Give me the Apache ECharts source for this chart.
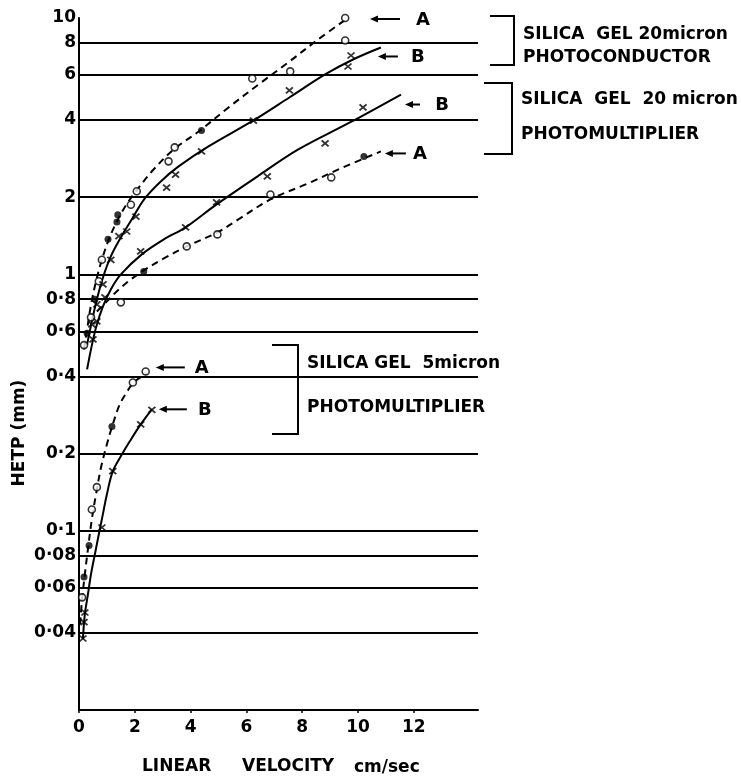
<!DOCTYPE html>
<html><head><meta charset="utf-8">
<script src="https://cdn.jsdelivr.net/npm/echarts@6/dist/echarts.min.js"></script>
<style>html,body{margin:0;padding:0;background:#fff}#c{width:741px;height:780px}</style>
</head><body><div id="c"></div>
<script>
// ---------- tick values / labels ----------
const yTicks = [0.04, 0.06, 0.08, 0.1, 0.2, 0.4, 0.6, 0.8, 1, 2, 4, 6, 8, 10];
const yTickLabels = ['0·04', '0·06', '0·08', '0·1', '0·2', '0·4', '0·6', '0·8', '1', '2', '4', '6', '8', '10'];
const gridLineValues = [0.04, 0.06, 0.08, 0.1, 0.2, 0.4, 0.6, 0.8, 1, 2, 4, 6, 8];
const xTicks = [0, 2, 4, 6, 8, 10, 12];

// ---------- Silica gel 20 micron, photoconductor ----------
const pcA_curve = [[0.18,0.51],[0.29,0.61],[0.43,0.76],[0.61,0.94],[0.82,1.14],[1.07,1.37],[1.36,1.61],[1.71,1.88],[2.14,2.18],[2.68,2.57],[3.39,3.07],[4.29,3.61],[5.36,4.48],[6.43,5.5],[7.5,6.71],[8.57,8.25],[9.64,10.0]];
const pcA_open = [[9.54,10.0],[9.54,8.17],[7.57,6.19],[6.21,5.81],[3.43,3.13],[3.21,2.76],[2.07,2.11],[1.86,1.87],[0.82,1.14],[0.71,0.94],[0.43,0.68],[0.18,0.53]];
const pcA_filled = [[4.39,3.64],[1.39,1.71],[1.36,1.6],[1.04,1.37],[0.57,0.8],[0.29,0.59]];
const pcB_curve = [[0.29,0.533],[0.46,0.656],[0.64,0.799],[0.86,0.973],[1.14,1.175],[1.5,1.394],[1.89,1.638],[2.36,1.978],[2.93,2.305],[3.57,2.637],[4.64,3.155],[6.25,3.984],[7.54,4.898],[8.82,6.022],[9.82,6.89],[10.82,7.674]];
const pcB_x = [[9.75,7.14],[9.64,6.47],[7.54,5.22],[6.25,3.98],[4.39,3.02],[3.46,2.45],[3.14,2.18],[2.04,1.68],[1.71,1.47],[1.43,1.41],[1.14,1.14],[0.86,0.914],[0.64,0.764],[0.46,0.638]];

// ---------- Silica gel 20 micron, photomultiplier ----------
const pmB_curve = [[0.29,0.426],[0.43,0.51],[0.61,0.621],[0.86,0.75],[1.14,0.874],[1.5,1.0],[2.25,1.197],[3.04,1.369],[3.82,1.525],[4.93,1.875],[6.5,2.454],[7.86,3.072],[9.71,3.913],[11.54,5.03]];
const pmB_x = [[2.21,1.229],[3.82,1.525],[4.93,1.909],[6.75,2.411],[8.82,3.241],[10.18,4.478],[0.93,0.813],[0.64,0.656],[0.5,0.558]];
const pmA_curve = [[0.64,0.717],[1.0,0.785],[1.43,0.874],[1.86,0.956],[2.32,1.036],[3.04,1.154],[3.86,1.286],[4.96,1.458],[5.71,1.638],[6.86,1.961],[8.21,2.264],[9.46,2.614],[10.82,3.017]];
const pmA_open = [[3.86,1.286],[4.96,1.432],[1.5,0.778],[6.86,2.05],[9.04,2.389]];
const pmA_filled = [[2.32,1.027],[10.21,2.884]];

// ---------- Silica gel 5 micron, photomultiplier ----------
const s5A_curve = [[0.04,0.0432],[0.11,0.0541],[0.21,0.0677],[0.32,0.0847],[0.46,0.1109],[0.61,0.1388],[0.79,0.1769],[1.0,0.2174],[1.21,0.26],[1.46,0.311],[1.71,0.3467],[1.96,0.379],[2.43,0.411]];
const s5A_open = [[2.39,0.418],[1.93,0.379],[0.64,0.148],[0.46,0.121],[0.11,0.055]];
const s5A_filled = [[1.18,0.255],[0.36,0.0876],[0.18,0.066]];
const s5B_curve = [[0.14,0.0378],[0.21,0.0473],[0.32,0.0565],[0.43,0.0677],[0.57,0.081],[0.71,0.0969],[0.82,0.1109],[1.0,0.1388],[1.21,0.1706],[1.54,0.1987],[1.82,0.2233],[2.21,0.26],[2.61,0.2977]];
const s5B_x = [[2.61,0.296],[2.21,0.26],[1.21,0.171],[0.82,0.103],[0.21,0.048],[0.14,0.038],[0.18,0.044]];

// ---------- curve end labels ----------
const curveLabels = ['A', 'B', 'B', 'A', 'A', 'B'];

const FONT = 'DejaVu Sans';
const chart = echarts.init(document.getElementById('c'));

const X_PATH = 'path://M0,0L10,10M10,0L0,10';
function lineSeries(data, dashed, extra) {
  return Object.assign({
    type: 'line', data: data, smooth: 0.35, showSymbol: false, symbol: 'none', silent: true,
    lineStyle: { color: '#000', width: 2, type: dashed ? [7, 5] : 'solid' }, z: 3
  }, extra || {});
}
function markers(data, kind) {
  const s = { type: 'scatter', data: data, silent: true, z: 5 };
  if (kind === 'open') { s.symbol = 'circle'; s.symbolSize = 7; s.itemStyle = { color: '#fff', borderColor: '#000', borderWidth: 1.6 }; }
  else if (kind === 'filled') { s.symbol = 'circle'; s.symbolSize = 7; s.itemStyle = { color: '#000' }; }
  else { s.symbol = X_PATH; s.symbolSize = [7, 6]; s.itemStyle = { color: 'none', borderColor: '#000', borderWidth: 1.8 }; }
  return s;
}

const option = {
  backgroundColor: '#fff',
  animation: false,
  grid: { left: 79, top: 18, width: 399, height: 692, containLabel: false },
  xAxis: {
    type: 'value', min: 0, max: 14.3, interval: 2,
    axisLine: { show: true, lineStyle: { color: '#000', width: 2 } },
    axisTick: { show: true, customValues: xTicks, length: 3, lineStyle: { color: '#000', width: 1.5 } },
    axisLabel: { customValues: xTicks, color: '#000', fontFamily: FONT, fontWeight: 'bold', fontSize: 17, margin: 9 },
    splitLine: { show: false }
  },
  yAxis: {
    type: 'log', logBase: 10, min: 0.02, max: 10,
    axisLine: { show: true, lineStyle: { color: '#000', width: 2 } },
    axisTick: { show: false },
    axisLabel: {
      customValues: yTicks, color: '#000', fontFamily: FONT, fontWeight: 'bold', fontSize: 17, margin: 3,
      formatter: function (v) {
        let best = 0, bd = Infinity;
        yTicks.forEach(function (t, i) { const d = Math.abs(Math.log(t) - Math.log(v)); if (d < bd) { bd = d; best = i; } });
        return yTickLabels[best];
      }
    },
    splitLine: { show: false }, minorSplitLine: { show: false }
  },
  series: [
    lineSeries(pcA_curve, true, {
      markLine: {
        silent: true, symbol: 'none', animation: false, label: { show: false },
        lineStyle: { color: '#000', width: 2, type: 'solid' },
        data: gridLineValues.map(function (v) { return { yAxis: v }; })
      }
    }),
    lineSeries(pcB_curve, false),
    lineSeries(pmB_curve, false),
    lineSeries(pmA_curve, true),
    lineSeries(s5A_curve, true),
    lineSeries(s5B_curve, false),
    markers(pcA_open, 'open'), markers(pcA_filled, 'filled'), markers(pcB_x, 'x'),
    markers(pmA_open, 'open'), markers(pmA_filled, 'filled'), markers(pmB_x, 'x'),
    markers(s5A_open, 'open'), markers(s5A_filled, 'filled'), markers(s5B_x, 'x')
  ]
};
chart.setOption(option);

// ---------- annotations (arrows at curve ends, brackets, titles) ----------
const curveEnds = [pcA_curve, pcB_curve, pmB_curve, pmA_curve, s5A_curve, s5B_curve].map(function (c) { return c[c.length - 1]; });
// pixel offsets of arrow head / tail / label from each curve's end
const arrowOffsets = [
  { dx: 22, dy: 1, tail: 52, lab: 75 },
  { dx: -3, dy: 9, tail: 17, lab: 37 },
  { dx: 4, dy: 10, tail: 19, lab: 41 },
  { dx: 4, dy: 2, tail: 25, lab: 39 },
  { dx: 9, dy: -6, tail: 38, lab: 55 },
  { dx: 7, dy: 0, tail: 35, lab: 53 }
];
const g = [];
curveEnds.forEach(function (p, i) {
  const px = chart.convertToPixel({ gridIndex: 0 }, p);
  const o = arrowOffsets[i];
  const hx = px[0] + o.dx, hy = px[1] + o.dy;
  g.push({ type: 'line', shape: { x1: hx + 5, y1: hy, x2: px[0] + o.tail, y2: hy }, style: { stroke: '#000', lineWidth: 2 } });
  g.push({ type: 'polygon', shape: { points: [[hx, hy], [hx + 8, hy - 3.5], [hx + 8, hy + 3.5]] }, style: { fill: '#000' } });
  g.push({ type: 'text', x: px[0] + o.lab, y: hy + 1, style: { text: curveLabels[i], fill: '#000', font: 'bold 18px "' + FONT + '"', align: 'center', verticalAlign: 'middle' } });
});
function bracket(x0, x1, y0, y1) {
  return { type: 'polyline', shape: { points: [[x0, y0], [x1, y0], [x1, y1], [x0, y1]] }, style: { stroke: '#000', lineWidth: 2, fill: null } };
}
function txt(x, y, s, size) {
  return { type: 'text', x: x, y: y, style: { text: s, fill: '#000', font: 'bold ' + (size || 17) + 'px "' + FONT + '"', align: 'left', verticalAlign: 'middle' } };
}
g.push(bracket(490, 514, 16, 65));
g.push(txt(523, 35, 'SILICA  GEL 20micron'));
g.push(txt(523, 58, 'PHOTOCONDUCTOR'));
g.push(bracket(484, 512, 83, 154));
g.push(txt(521, 100, 'SILICA  GEL  20 micron'));
g.push(txt(521, 135, 'PHOTOMULTIPLIER'));
g.push(bracket(272, 298, 345, 434));
g.push(txt(307, 364, 'SILICA GEL  5micron'));
g.push(txt(307, 408, 'PHOTOMULTIPLIER'));
g.push({ type: 'text', x: 20, y: 433, rotation: Math.PI / 2, style: { text: 'HETP (mm)', fill: '#000', font: 'bold 17px "' + FONT + '"', align: 'center', verticalAlign: 'middle' } });
g.push(txt(142, 767, 'LINEAR'));
g.push(txt(242, 767, 'VELOCITY'));
g.push(txt(354, 768, 'cm/sec'));
chart.setOption({ graphic: g });
</script>
</body></html>
